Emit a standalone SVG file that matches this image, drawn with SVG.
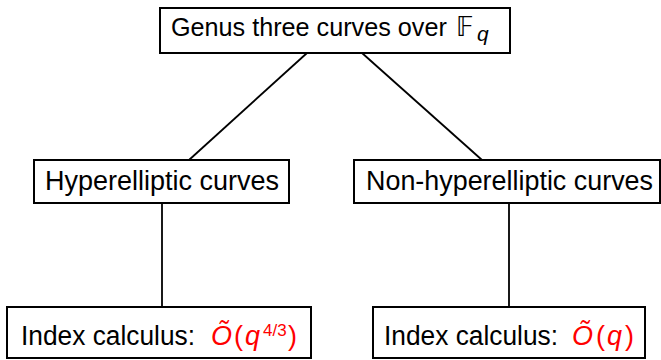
<svg xmlns="http://www.w3.org/2000/svg" width="661" height="360" viewBox="0 0 661 360">
<style>
.box{fill:#fff;stroke:#000;stroke-width:2}
.t{font-family:"Liberation Sans","DejaVu Sans",sans-serif;font-size:27px;fill:#000}
.r{fill:#ff0000}
.i{font-style:italic}
.c{stroke:#000;stroke-width:1.8;fill:none}
</style>
<g id="connectors">
<line class="c" x1="307" y1="53" x2="189" y2="160"/>
<line class="c" x1="362" y1="53" x2="482" y2="160"/>
<line class="c" x1="162" y1="203" x2="162" y2="307"/>
<line class="c" x1="509" y1="203" x2="509" y2="307"/>
</g>
<g id="root">
<rect class="box" x="160" y="8" width="350" height="45"/>
<text class="t" x="171" y="36" style="font-size:25.2px">Genus three curves over</text>
<text class="t" x="456" y="36" style="font-family:'DejaVu Sans',sans-serif;font-size:26px">𝔽</text>
<text class="t i" x="477" y="41" style="font-size:21px">q</text>
</g>
<g id="hyper">
<rect class="box" x="34" y="160" width="255" height="43"/>
<text class="t" x="45" y="190" textLength="234" lengthAdjust="spacingAndGlyphs">Hyperelliptic curves</text>
</g>
<g id="nonhyper">
<rect class="box" x="354" y="160" width="306" height="43"/>
<text class="t" x="366" y="190" textLength="287" lengthAdjust="spacingAndGlyphs">Non-hyperelliptic curves</text>
</g>
<g id="ic1">
<rect class="box" x="7" y="307" width="304" height="51"/>
<text class="t" x="21" y="345" textLength="174" lengthAdjust="spacingAndGlyphs">Index calculus:</text>
<text class="t r i" x="211" y="345">Õ</text>
<text class="t r" x="234" y="345">(</text>
<text class="t r i" x="245" y="345">q</text>
<text class="t r" x="263" y="336" style="font-size:17px">4/3</text>
<text class="t r" x="288" y="345">)</text>
</g>
<g id="ic2">
<rect class="box" x="373" y="307" width="272" height="51"/>
<text class="t" x="384" y="345" textLength="174" lengthAdjust="spacingAndGlyphs">Index calculus:</text>
<text class="t r i" x="572" y="345">Õ</text>
<text class="t r" x="596" y="345">(</text>
<text class="t r i" x="607" y="345">q</text>
<text class="t r" x="625" y="345">)</text>
</g>
</svg>
